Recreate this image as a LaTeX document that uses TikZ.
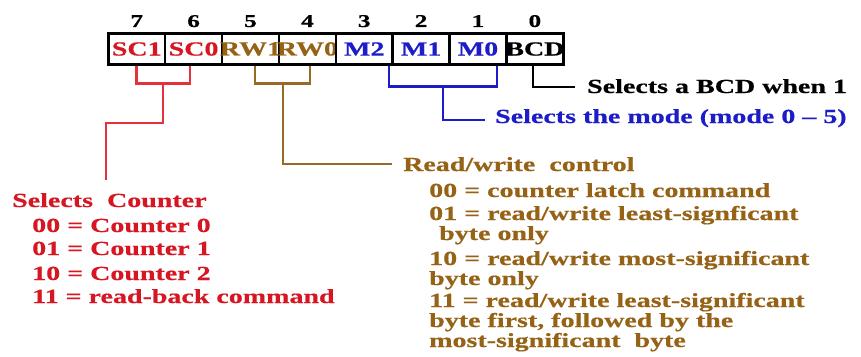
\documentclass[tikz,border=0pt]{standalone}
\usepackage{fontspec}
\newfontfamily\dfont[FakeStretch=1.4,Ligatures=TeX,FakeBold=0.6]{Liberation Serif}
\definecolor{cred}{RGB}{214,22,34}
\definecolor{lred}{RGB}{228,50,60}
\definecolor{cbrown}{RGB}{150,98,22}
\definecolor{lbrown}{RGB}{152,106,40}
\definecolor{cblue}{RGB}{28,28,200}
\begin{document}
\begin{tikzpicture}[x=1pt,y=-1pt,
  cell/.style={draw=black,line width=2.4pt,minimum width=56.875pt,minimum height=31pt,inner sep=0pt},
  celltxt/.style={inner sep=0pt,font=\dfont\bfseries\fontsize{20}{22}\selectfont},
  bitnum/.style={inner sep=0pt,anchor=base,font=\dfont\bfseries\fontsize{18}{20}\selectfont},
  txt/.style={inner sep=0pt,anchor=base west,font=\dfont\bfseries\fontsize{20}{22}\selectfont},
  conn/.style={line width=2.6pt},
]
\useasboundingbox (0,0) rectangle (861,356);
% register cells
\foreach \i/\lab/\col in {7/SC1/cred,6/SC0/cred,5/RW1/cbrown,4/RW0/cbrown,3/M2/cblue,2/M1/cblue,1/M0/cblue,0/BCD/black}{
  \node[cell] (c\i) at ({108.3+56.875*(7-\i)+28.44},49) {};
  \node[celltxt,text=\col] (l\i) at (c\i) {\lab};
  \node[bitnum] (b\i) at ({108.3+56.875*(7-\i)+28.44},27) {\i};
}
% red: select counter
\node[txt,text=cred] (sc) at (12,207) {Selects\ \ Counter};
\node[txt,text=cred] (sc0) at (32,232) {00 = Counter 0};
\node[txt,text=cred] (sc1) at (32,255) {01 = Counter 1};
\node[txt,text=cred] (sc2) at (32,280) {10 = Counter 2};
\node[txt,text=cred] (sc3) at (32,303) {11 = read-back command};
\coordinate (rj) at (163,83);
\coordinate (rk) at (106,123);
\draw[conn,lred] (c7.south) -- ++(0,18) -| ([xshift=-3.6pt]c6.south);
\draw[conn,lred] (rj) |- (rk) -- ([yshift=13pt]sc.north -| rk);
% brown: read/write control
\node[txt,text=cbrown] (rw) at (403,171) {Read/write\ \ control};
\node[txt,text=cbrown] (rw0) at (429,197) {00 = counter latch command};
\node[txt,text=cbrown] (rw1) at (429,220) {01 =\ read/write\ least-signficant};
\node[txt,text=cbrown] (rw1b) at (439,240) {byte only};
\node[txt,text=cbrown] (rw2) at (429,265) {10 = read/write\ most-significant};
\node[txt,text=cbrown] (rw2b) at (429,285) {byte\ only};
\node[txt,text=cbrown] (rw3) at (429,307) {11 = read/write\ least-significant};
\node[txt,text=cbrown] (rw3b) at (429,327) {byte first, followed by the};
\node[txt,text=cbrown] (rw3c) at (429,347) {most-significant\ \ byte};
\coordinate (bj) at (283,83);
\draw[conn,lbrown] ([xshift=4.5pt]c5.south) -- ++(0,18) -| ([xshift=2.6pt]c4.south);
\draw[conn,lbrown] (bj) |- ([xshift=-11pt,yshift=7pt]rw.base west);
% blue: mode
\node[txt,text=cblue] (md) at (495,123) {Selects the mode (mode 0 -- 5)};
\coordinate (mj) at (443,86);
\draw[conn,cblue] ([xshift=24.7pt]c3.south) -- ++(0,21) -| ([xshift=19pt]c1.south);
\draw[conn,cblue] (mj) |- ([xshift=-10pt,yshift=3pt]md.base west);
% black: BCD
\node[txt,text=black] (bcd) at (587,93) {Selects a BCD when 1};
\draw[conn,black] ([xshift=-2pt]c0.south) |- ([xshift=-12pt,yshift=6pt]bcd.base west);
\end{tikzpicture}
\end{document}
